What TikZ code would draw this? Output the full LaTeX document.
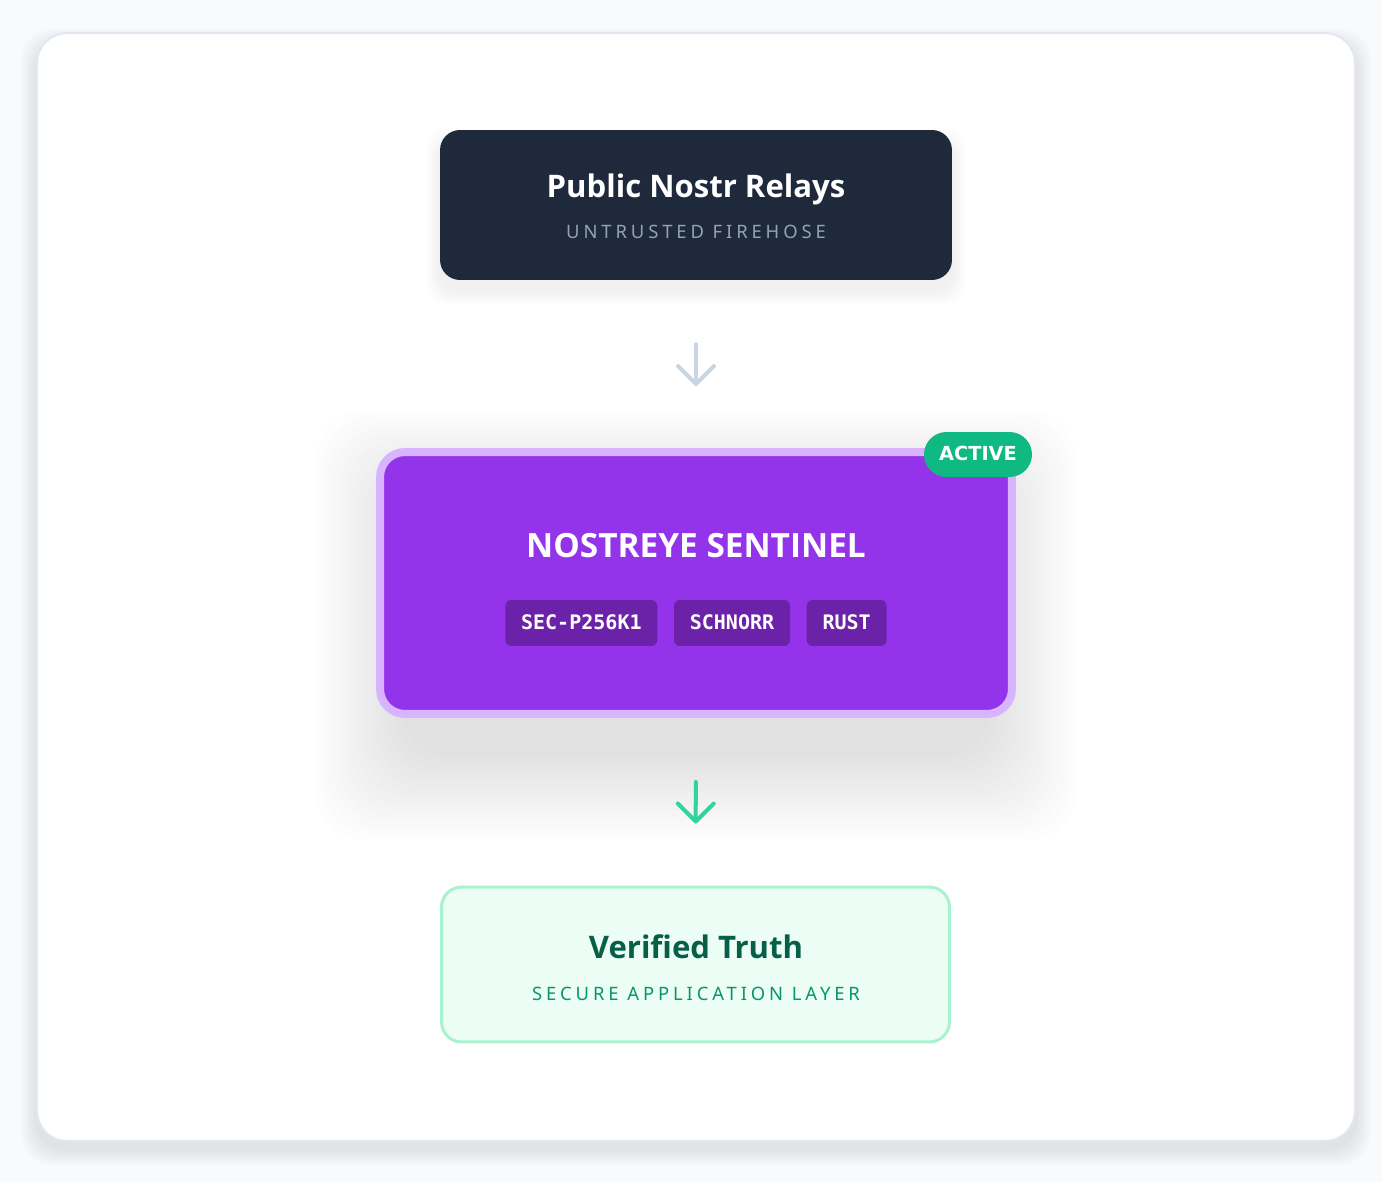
\documentclass[tikz,border=0pt]{standalone}
\usepackage{fontspec}
\setmainfont{Noto Sans}
\newfontfamily\titlefont{Open Sans}
\newfontfamily\heavyfont{DejaVu Sans}
\newfontfamily\spacedfont[LetterSpace=21]{Noto Sans}
\newfontfamily\chipfont{DejaVu Sans Mono}
\usetikzlibrary{arrows.meta, positioning}
\definecolor{pagebg}{HTML}{F8FAFC}
\definecolor{cardline}{HTML}{E2E8F0}
\definecolor{slatebox}{HTML}{1E293B}
\definecolor{slatetext}{HTML}{94A3B8}
\definecolor{slatearrow}{HTML}{CBD5E1}
\definecolor{sentinel}{HTML}{9333EA}
\definecolor{sentinelrim}{HTML}{D8B4FE}
\definecolor{chipfill}{HTML}{6B21A8}
\definecolor{badgefill}{HTML}{10B981}
\definecolor{greenarrow}{HTML}{34D399}
\definecolor{truthfill}{HTML}{ECFDF5}
\definecolor{truthrim}{HTML}{A7F3D0}
\definecolor{truthtitle}{HTML}{065F46}
\definecolor{truthsub}{HTML}{059669}

\begin{document}
\begin{tikzpicture}[
    x=0.02cm, y=-0.02cm,
    layerbox/.style={rounded corners=0.4cm, minimum width=10.24cm, minimum height=3cm, inner sep=0pt},
    titletext/.style={anchor=base, font=\titlefont\fontsize{17.7}{20}\selectfont\bfseries},
    subtext/.style={anchor=base, font=\spacedfont\fontsize{10.5}{12}\selectfont},
    chip/.style={fill=chipfill, text=white, rounded corners=0.12cm, minimum height=0.92cm,
      inner sep=0pt, text height=0.73em, text depth=0pt, font=\chipfont\fontsize{11.4}{12}\selectfont\bfseries},
    flow/.style={line width=0.08cm, line cap=round, -{Straight Barb[length=0.36cm, width=0.72cm, round]}},
    haze/.style={fill=black, opacity=#1}
  ]
  % page and card
  \useasboundingbox[fill=pagebg] (0,0) rectangle (1382,1182);
  \foreach \r in {2,4,...,16}
    \fill[haze=0.01, rounded corners=0.6cm] (37-\r,45-\r) rectangle (1355+\r,1149+\r);
  \node[draw=cardline, line width=0.04cm, fill=white, rounded corners=0.6cm,
    minimum width=26.36cm, minimum height=22.16cm] (card) at (696,587) {};

  % soft shadows under the boxes
  \foreach \r in {2,4,...,14}
    \fill[haze=0.009, rounded corners=0.4cm] (440-\r,142-\r) rectangle (952+\r,290+\r);
  \foreach \r in {6,12,...,90}
    \fill[haze=0.008, rounded corners=1cm] (406-\r,500-\r) rectangle (986+\r,750+\r);

  % relays
  \node[layerbox, fill=slatebox] (relays) at (696,205) {};
  \node[titletext, text=white] (relaystitle) at (696,198) {Public Nostr Relays};
  \node[subtext, text=slatetext] (relayssub) at (696,239) {UNTRUSTED FIREHOSE};

  % sentinel
  \node[draw=sentinelrim, line width=0.16cm, fill=sentinel, rounded corners=0.5cm,
    minimum width=12.64cm, minimum height=5.24cm, inner sep=0pt] (sentinel) at (696,583) {};
  \node[anchor=base, text=white, font=\titlefont\fontsize{19}{22}\selectfont\bfseries]
    (sentineltitle) at (696,557) {NOSTREYE SENTINEL};
  \node[chip, minimum width=2.32cm] (schnorr) at (732,623) {SCHNORR};
  \node[chip, minimum width=3.04cm, left=0.32cm of schnorr] (secp) {SEC-P256K1};
  \node[chip, minimum width=1.6cm, right=0.32cm of schnorr] (rust) {RUST};
  \node[fill=badgefill, text=white, rounded corners=0.45cm, minimum width=2.16cm, minimum height=0.9cm,
    inner sep=0pt, text height=0.72em, text depth=0pt, font=\heavyfont\fontsize{11}{14}\selectfont\bfseries]
    (active) at (978,454.5) {ACTIVE};

  % verified truth
  \node[layerbox, draw=truthrim, line width=0.06cm, fill=truthfill,
    minimum width=10.16cm, minimum height=3.1cm] (truth) at (695.5,964.5) {};
  \node[titletext, text=truthtitle] (truthtitle) at (696,958) {Verified Truth};
  \node[subtext, text=truthsub] (truthsub) at (696,1000) {SECURE APPLICATION LAYER};

  % flow arrows
  \draw[flow, slatearrow, shorten <=1.28cm, shorten >=1.24cm] (relays.south) -- (sentinel.north);
  \draw[flow, greenarrow, shorten <=1.28cm, shorten >=1.24cm] (sentinel.south) -- (truth.north);
\end{tikzpicture}
\end{document}
